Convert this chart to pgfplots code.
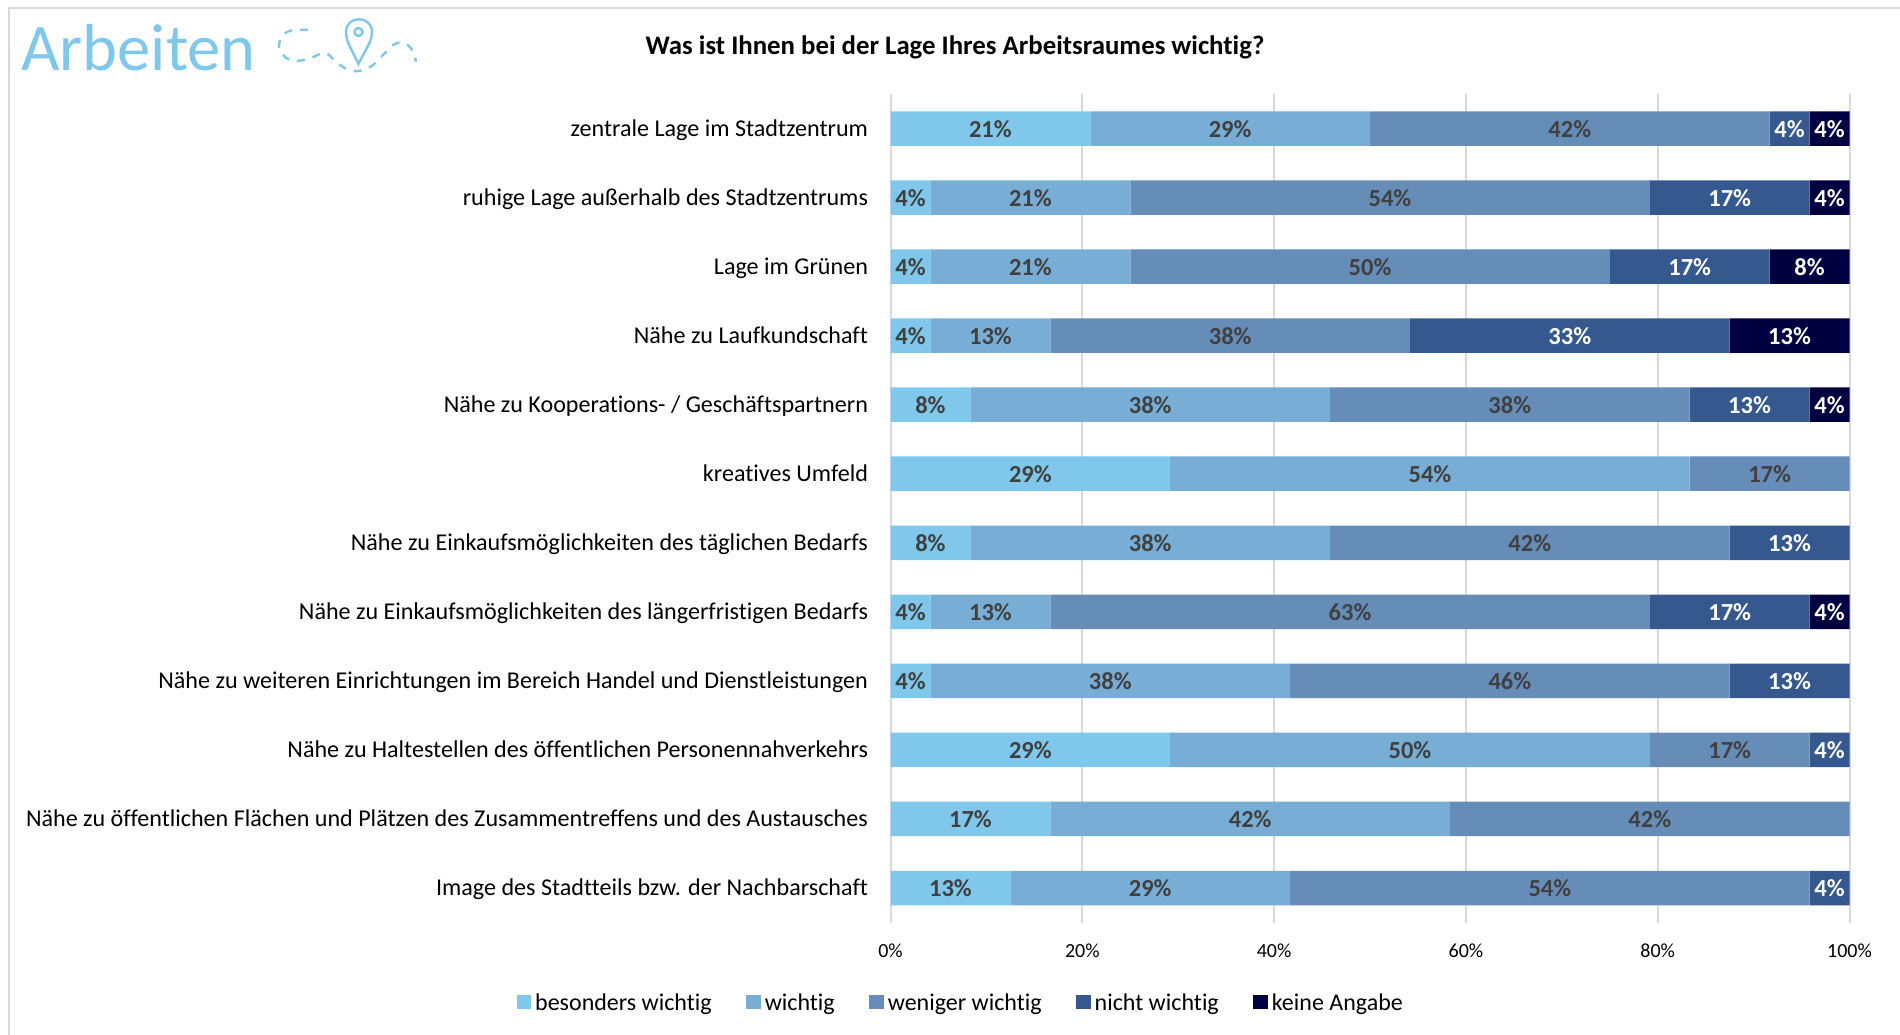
\documentclass[border=0pt]{standalone}
\usepackage{pgfplots}
\pgfplotsset{compat=1.18}
\usepackage{fontspec}
\setmainfont[Ligatures=NoCommon]{Carlito}
\definecolor{cA}{HTML}{7FC7EB}
\definecolor{cB}{HTML}{78ADD5}
\definecolor{cC}{HTML}{668CB8}
\definecolor{cD}{HTML}{35598F}
\definecolor{cE}{HTML}{000040}
\definecolor{lbl}{HTML}{404040}
\definecolor{gridc}{HTML}{D9D9D9}
% each series holds the share of 24 answers, row 0 at the top;
% empty segments carry no label
\newcommand{\barseries}[3]{%
  \addplot[fill=#1,draw=none,
    nodes near coords={\fontsize{24.5}{25}\selectfont\bfseries\pgfmathfloatifflags{\pgfplotspointmeta}{0}{}{\pgfmathprintnumber[fixed,precision=0]{\pgfplotspointmeta}\%}},
    every node near coord/.append style={text=#2,inner sep=0pt,text height=19pt,text depth=1.8pt}]
    coordinates {#3};
}
\newcommand{\lgd}[1]{\hspace*{2pt}#1\hspace*{32.5pt}}
\begin{document}
\begin{tikzpicture}[x=1pt,y=1pt]
\path[use as bounding box] (0,0) rectangle (1900,-1035);
\draw[gridc,line width=2pt] (8.5,-1035) -- (8.5,-8.5) -- (1900,-8.5);
\node[anchor=base west,inner sep=0pt,text=cA,font=\fontsize{66.5}{67}\selectfont] at (21,-71) {Arbeiten};
% route marker beside the heading
\begin{scope}[draw=cA,line width=2.4pt]
\draw[dash pattern=on 8pt off 8pt] plot[smooth,tension=0.7] coordinates {(308,-30) (287,-32) (279,-47) (290,-60) (308,-59) (325,-53) (337,-63) (353,-71) (370,-67) (383,-55) (397,-43) (410,-47) (416,-62)};
\draw[fill=white] (358.5,-64) .. controls (352,-50) and (346,-42) .. (346,-32) .. controls (346,-15) and (372,-15) .. (372,-32) .. controls (372,-42) and (365,-50) .. (358.5,-64) -- cycle;
\draw (358.5,-32) circle (4);
\end{scope}
\node[anchor=base,inner sep=0pt,font=\fontsize{26.8}{27}\selectfont\bfseries] at (955,-55) {Was ist Ihnen bei der Lage Ihres Arbeitsraumes wichtig?};
\begin{axis}[
  at={(890.5pt,-922.5pt)},anchor=south west,
  scale only axis,width=959pt,height=828.5pt,
  xbar stacked,bar width=34.5pt,
  xmin=0,xmax=100,ymin=-0.5,ymax=11.5,y dir=reverse,
  axis line style={draw=none},
  xtick={0,20,...,100},
  xticklabel={\pgfmathprintnumber[fixed,precision=0]{\tick}\%},
  /pgf/number format/assume math mode=true,
  xmajorgrids,
  grid style={gridc,line width=2pt},
  major tick style={draw=none},
  xticklabel style={font=\fontsize{20}{20}\selectfont,yshift=-18pt},
  ytick={0,...,11},
  yticklabels={zentrale Lage im Stadtzentrum,
    ruhige Lage außerhalb des Stadtzentrums,
    Lage im Grünen,
    Nähe zu Laufkundschaft,
    Nähe zu Kooperations- / Geschäftspartnern,
    kreatives Umfeld,
    Nähe zu Einkaufsmöglichkeiten des täglichen Bedarfs,
    Nähe zu Einkaufsmöglichkeiten des längerfristigen Bedarfs,
    Nähe zu weiteren Einrichtungen im Bereich Handel und Dienstleistungen,
    Nähe zu Haltestellen des öffentlichen Personennahverkehrs,
    Nähe zu öffentlichen Flächen und Plätzen des Zusammentreffens und des Austausches,
    Image des Stadtteils bzw. der Nachbarschaft},
  yticklabel style={font=\fontsize{24.1}{24}\selectfont,xshift=-19pt,anchor=east,text height=18pt,text depth=3pt},
  legend style={at={(-0.39,-0.0965)},anchor=west,draw=none,fill=none,legend columns=-1,
    font=\fontsize{24}{24}\selectfont,inner sep=0pt},
  legend image code/.code={\fill[#1] (0pt,-6.5pt) rectangle (14.5pt,7pt);},
  clip=false,
]
\barseries{cA}{lbl}{(20.83,0)(4.17,1)(4.17,2)(4.17,3)(8.33,4)(29.17,5)(8.33,6)(4.17,7)(4.17,8)(29.17,9)(16.67,10)(12.5,11)}
\barseries{cB}{lbl}{(29.17,0)(20.83,1)(20.83,2)(12.5,3)(37.5,4)(54.17,5)(37.5,6)(12.5,7)(37.5,8)(50,9)(41.67,10)(29.17,11)}
\barseries{cC}{lbl}{(41.67,0)(54.17,1)(50,2)(37.5,3)(37.5,4)(16.67,5)(41.67,6)(62.5,7)(45.83,8)(16.67,9)(41.67,10)(54.17,11)}
\barseries{cD}{white}{(4.17,0)(16.67,1)(16.67,2)(33.33,3)(12.5,4)(0,5)(12.5,6)(16.67,7)(12.5,8)(4.17,9)(0,10)(4.17,11)}
\barseries{cE}{white}{(4.17,0)(4.17,1)(8.33,2)(12.5,3)(4.17,4)(0,5)(0,6)(4.17,7)(0,8)(0,9)(0,10)(0,11)}
\legend{\lgd{besonders wichtig},\lgd{wichtig},\lgd{weniger wichtig},\lgd{nicht wichtig},\hspace*{2pt}keine Angabe}
\end{axis}
\end{tikzpicture}
\end{document}
